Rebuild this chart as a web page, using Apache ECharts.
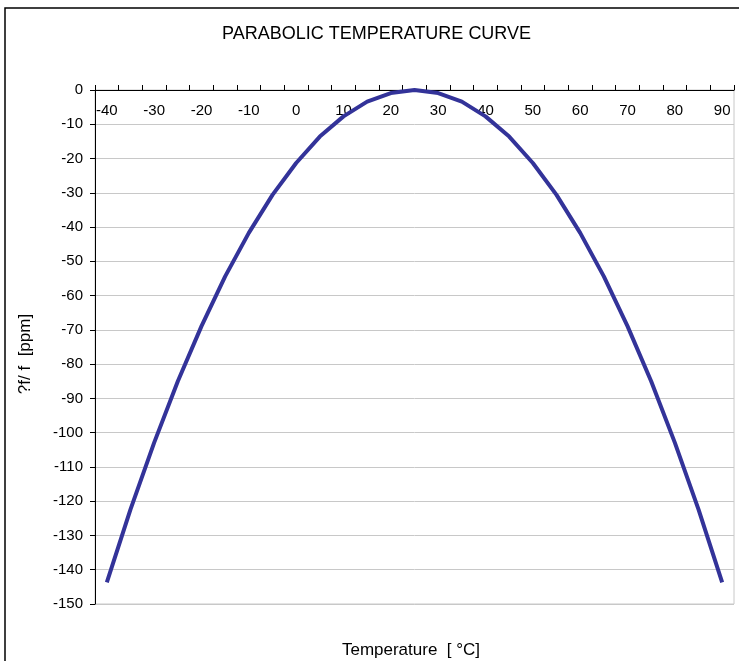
<!DOCTYPE html>
<html>
<head>
<meta charset="utf-8">
<script src="https://cdn.jsdelivr.net/npm/echarts@6/dist/echarts.min.js"></script>
<style>
  html, body { margin: 0; padding: 0; background: #fff; }
  #chart { width: 739px; height: 661px; }
</style>
</head>
<body>
<div id="chart"></div>
<script>
// temperature categories (°C)
const temps = ['-40', '-35', '-30', '-25', '-20', '-15', '-10', '-5', '0', '5', '10', '15', '20',
  '25', '30', '35', '40', '45', '50', '55', '60', '65', '70', '75', '80', '85', '90'];
// frequency deviation (ppm)
const dff = [-143.7, -122.4, -102.9, -85.0, -68.9, -54.4, -41.7, -30.6, -21.3, -13.6, -7.7, -3.4, -0.9,
  0, -0.9, -3.4, -7.7, -13.6, -21.3, -30.6, -41.7, -54.4, -68.9, -85.0, -102.9, -122.4, -143.7];

const myChart = echarts.init(document.getElementById('chart'));

const font = 'Liberation Sans, Arial, sans-serif';

const option = {
  animation: false,
  title: {
    text: 'PARABOLIC TEMPERATURE CURVE',
    left: 222,
    top: 25,
    padding: 0,
    textStyle: { fontFamily: font, fontSize: 18, fontWeight: 'normal', color: '#000' }
  },
  graphic: [
    {
      type: 'rect',
      shape: { x: 5, y: 8, width: 800, height: 700 },
      style: { fill: 'none', stroke: '#000', lineWidth: 1.5 },
      silent: true
    },
    {
      // x axis title (axis itself sits at the top)
      type: 'text',
      x: 411,
      y: 650,
      style: {
        text: 'Temperature  [ °C]',
        fontFamily: font,
        fontSize: 17,
        fill: '#000',
        align: 'center',
        verticalAlign: 'middle'
      },
      silent: true
    },
    {
      type: 'text',
      x: 25,
      y: 354,
      rotation: Math.PI / 2,
      style: {
        text: '?f/ f  [ppm]',
        fontFamily: font,
        fontSize: 17,
        fill: '#000',
        align: 'center',
        verticalAlign: 'middle'
      },
      silent: true
    }
  ],
  grid: {
    left: 95,
    right: 5,
    top: 90,
    bottom: 57,
    show: true,
    borderColor: '#c8c8c8',
    borderWidth: 1
  },
  xAxis: {
    type: 'category',
    position: 'top',
    data: temps,
    boundaryGap: true,
    axisLine: { lineStyle: { color: '#000', width: 1 } },
    axisTick: { show: true, inside: false, length: 5, interval: 0, lineStyle: { color: '#000' } },
    axisLabel: {
      inside: true,
      margin: 13,
      interval: 1,
      color: '#000',
      fontFamily: font,
      fontSize: 15
    },
    splitLine: { show: false }
  },
  yAxis: {
    type: 'value',
    min: -150,
    max: 0,
    interval: 10,
    axisLine: { show: true, lineStyle: { color: '#000', width: 1 } },
    axisTick: { show: true, length: 5, lineStyle: { color: '#000' } },
    axisLabel: { margin: 12, color: '#000', fontFamily: font, fontSize: 15 },
    splitLine: { show: true, lineStyle: { color: '#c8c8c8', width: 1 } }
  },
  series: [
    {
      name: 'df/f',
      type: 'line',
      data: dff,
      showSymbol: false,
      symbol: 'none',
      lineStyle: { color: '#333399', width: 4 },
      itemStyle: { color: '#333399' }
    }
  ]
};

myChart.setOption(option);
</script>
</body>
</html>
